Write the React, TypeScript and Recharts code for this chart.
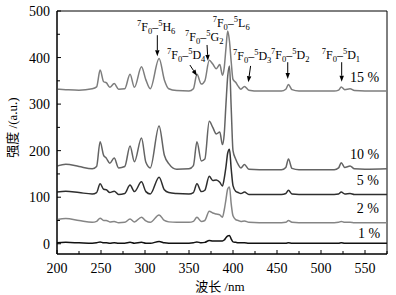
import { LineChart, Line, XAxis, YAxis, ReferenceArea, ReferenceDot, ReferenceLine } from "recharts"

const wavelength = [
  200, 210, 225, 240, 245, 249, 253, 256, 260, 265, 270, 277, 283, 288, 296, 301, 306, 316, 322, 327,
  336, 350, 355, 359, 364, 368, 373, 377, 381, 385, 388, 390, 392, 394, 396, 398, 400, 403, 406, 409,
  413, 418, 430, 455, 460, 463, 467, 475, 515, 520, 523, 527, 533, 538, 550, 575,
]

const s15 = [
  332, 331, 330, 333, 337, 373, 348, 346, 336, 344, 332, 333, 364, 336, 380, 352, 333, 398, 352, 333,
  329, 328, 333, 364, 343, 350, 394, 386, 376, 385, 362, 378, 420, 457, 435, 390, 353, 347, 338, 332,
  338, 330, 328, 328, 332, 342, 331, 328, 328, 330, 337, 331, 333, 329, 328, 328,
]

const s10 = [
  167, 171, 166, 161, 166, 219, 190, 184, 173, 184, 163, 166, 210, 176, 227, 175, 163, 253, 190, 172,
  160, 161, 168, 219, 178, 182, 263, 250, 236, 240, 213, 235, 300, 360, 382, 290, 200, 182, 170, 163,
  170, 160, 159, 159, 164, 182, 162, 159, 159, 163, 174, 164, 167, 161, 160, 161,
]

const s5 = [
  111, 113, 110, 107, 110, 129, 117, 116, 110, 113, 106, 108, 126, 112, 133, 112, 107, 143, 116, 110,
  108, 107, 110, 129, 112, 115, 145, 136, 137, 132, 124, 140, 165, 195, 203, 160, 125, 113, 110, 108,
  111, 106, 106, 106, 108, 115, 107, 106, 106, 107, 111, 107, 108, 106, 106, 106,
]

const s2 = [
  52, 54, 50, 46, 48, 55, 50, 50, 47, 48, 45, 46, 53, 47, 57, 49, 46, 62, 50, 47,
  46, 46, 48, 57, 48, 50, 70, 66, 64, 62, 57, 72, 95, 118, 122, 85, 60, 52, 50, 48,
  49, 46, 45, 45, 46, 50, 46, 45, 45, 46, 48, 46, 46, 45, 45, 45,
]

const s1 = [
  2, 3, 2, 1, 2, 4, 2, 2, 1, 2, 1, 1, 3, 1, 3, 1, 1, 5, 2, 1,
  1, 1, 2, 4, 2, 3, 7, 6, 6, 6, 6, 8, 13, 17, 18, 10, 4, 3, 2, 2,
  2, 1, 1, 1, 1, 2, 1, 1, 1, 1, 2, 1, 1, 1, 1, 1,
]

const xTicks = [200, 225, 250, 275, 300, 325, 350, 375, 400, 425, 450, 475, 500, 525, 550, 575]
const yTicks = [0, 50, 100, 150, 200, 250, 300, 350, 400, 450, 500]

const data = wavelength.map((w, i) => ({ w, s15: s15[i], s10: s10[i], s5: s5[i], s2: s2[i], s1: s1[i] }))

const series = [
  { key: "s15", color: "#7d7d7d" },
  { key: "s10", color: "#646464" },
  { key: "s5", color: "#2e2e2e" },
  { key: "s2", color: "#858585" },
  { key: "s1", color: "#111111" },
]

// transition labels: upper level letter + J
const terms = [
  { x: 290.9, y: 457, L: "H", J: "6" },
  { x: 325, y: 396, L: "D", J: "4" },
  { x: 345.5, y: 435, L: "G", J: "2" },
  { x: 376.9, y: 465, L: "L", J: "6" },
  { x: 400, y: 394, L: "D", J: "3" },
  { x: 443.2, y: 396, L: "D", J: "2" },
  { x: 500.8, y: 396, L: "D", J: "1" },
]

const arrows = [
  [314, 448, 314, 403],
  [351, 384, 359, 361],
  [370.5, 427, 371.5, 393],
  [420, 382, 417.4, 347],
  [462.2, 390, 462.2, 354],
  [523.5, 390, 523.5, 348],
]

const conc = [
  { x: 533, y: 347, t: "15 %" },
  { x: 533, y: 182, t: "10 %" },
  { x: 540.6, y: 127, t: "5 %" },
  { x: 540.6, y: 67, t: "2 %" },
  { x: 542, y: 13, t: "1 %" },
]

const FONT = "'Liberation Serif', 'Noto Sans CJK SC', serif"

const XTick = (p: any) => {
  const v = p.payload.value
  const major = v % 50 === 0
  return (
    <g>
      <line x1={p.x} y1={p.y - 9} x2={p.x} y2={p.y - 9 - (major ? 4 : 3)} stroke="#000" />
      {major && (
        <text x={p.x} y={p.y} dy="0.71em" textAnchor="middle" fontFamily={FONT} fontSize={14} fill="#000">
          {v}
        </text>
      )}
    </g>
  )
}

const YTick = (p: any) => {
  const v = p.payload.value
  const major = v % 100 === 0
  return (
    <g>
      <line x1={p.x + 7} y1={p.y} x2={p.x + 7 + (major ? 4 : 3)} y2={p.y} stroke="#000" />
      {major && (
        <text x={p.x} y={p.y} dy="0.355em" textAnchor="end" fontFamily={FONT} fontSize={14} fill="#000">
          {v}
        </text>
      )}
    </g>
  )
}

const Term = (L: string, J: string) => (p: any) => (
  <text x={p.cx} y={p.cy} fontFamily={FONT} fontSize={12} fill="#000">
    <tspan fontSize={8.5} dy={-5}>7</tspan>
    <tspan dy={5}>F</tspan>
    <tspan fontSize={8.5} dy={3}>0</tspan>
    <tspan dy={-3}>–</tspan>
    <tspan fontSize={8.5} dy={-5}>5</tspan>
    <tspan dy={5}>{L}</tspan>
    <tspan fontSize={8.5} dy={3}>{J}</tspan>
  </text>
)

const Arrow = (p: any) => {
  const { x1, y1, x2, y2 } = p
  const a = Math.atan2(y2 - y1, x2 - x1)
  const len = 6
  const w = 2.2
  const bx = x2 - len * Math.cos(a)
  const by = y2 - len * Math.sin(a)
  const pts = `${x2},${y2} ${bx - w * Math.sin(a)},${by + w * Math.cos(a)} ${bx + w * Math.sin(a)},${by - w * Math.cos(a)}`
  return (
    <g>
      <line x1={x1} y1={y1} x2={bx} y2={by} stroke="#000" strokeWidth={1} />
      <polygon points={pts} fill="#000" />
    </g>
  )
}

export default function App() {
  return (
    <div style={{ position: "absolute", left: 0, top: 0, background: "#fff" }}>
      <LineChart width={396} height={295} data={data} margin={{ top: 11, right: 9, bottom: 0, left: 0 }}>
        <XAxis
          dataKey="w"
          type="number"
          domain={[200, 575]}
          allowDataOverflow
          ticks={xTicks}
          interval={0}
          height={41}
          tickSize={0}
          tickMargin={9}
          tickLine={false}
          axisLine={{ stroke: "#000" }}
          tick={XTick}
          label={(props: any) => {
            const vb = props.viewBox
            return (
              <text x={vb.x + vb.width / 2 - 2} y={291} textAnchor="middle" fontFamily={FONT} fontSize={13} fill="#000">
                波长 /nm
              </text>
            )
          }}
        />
        <YAxis
          type="number"
          domain={[-22, 500]}
          allowDataOverflow
          ticks={yTicks}
          interval={0}
          width={57}
          tickSize={0}
          tickMargin={7}
          tickLine={false}
          axisLine={{ stroke: "#000" }}
          tick={YTick}
          label={(props: any) => {
            const vb = props.viewBox
            const cy = vb.y + vb.height / 2 - 5
            return (
              <text
                x={12}
                y={cy}
                textAnchor="middle"
                dominantBaseline="central"
                transform={`rotate(-90, 12, ${cy})`}
                fontFamily={FONT}
                fontSize={13}
                fill="#000"
              >
                强度 /(a.u.)
              </text>
            )
          }}
        />
        <ReferenceArea x1={200} x2={575} y1={-22} y2={500} fill="none" stroke="#000" strokeWidth={1} />
        {series.map((s) => (
          <Line
            key={s.key}
            dataKey={s.key}
            type="monotone"
            stroke={s.color}
            strokeWidth={1.5}
            dot={false}
            isAnimationActive={false}
          />
        ))}
        {terms.map((t, i) => (
          <ReferenceDot key={"t" + i} x={t.x} y={t.y} r={0} shape={Term(t.L, t.J)} />
        ))}
        {arrows.map((a, i) => (
          <ReferenceLine
            key={"a" + i}
            segment={[
              { x: a[0], y: a[1] },
              { x: a[2], y: a[3] },
            ]}
            shape={Arrow}
          />
        ))}
        {conc.map((c, i) => (
          <ReferenceDot
            key={"c" + i}
            x={c.x}
            y={c.y}
            r={0}
            shape={(p: any) => (
              <text x={p.cx} y={p.cy} fontFamily={FONT} fontSize={14} fill="#000">
                {c.t}
              </text>
            )}
          />
        ))}
      </LineChart>
    </div>
  )
}
